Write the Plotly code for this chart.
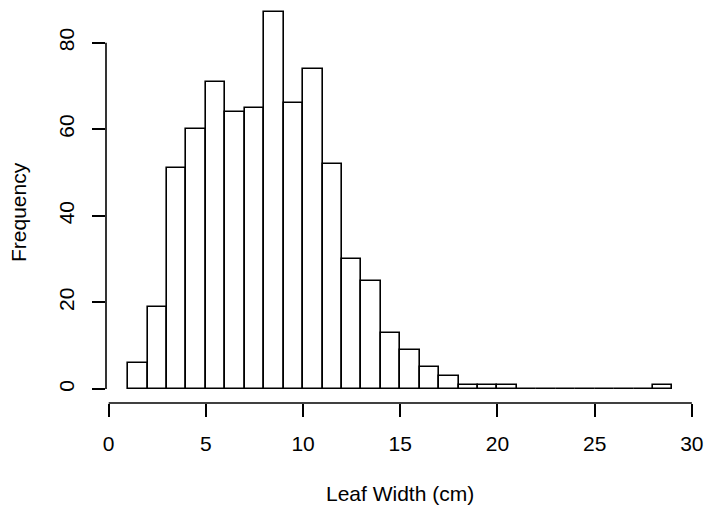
import plotly.graph_objects as go

# histogram bins (leaf width, cm) and counts
bin_edges = list(range(1, 30))
counts = [6, 19, 51, 60, 71, 64, 65, 87, 66, 74, 52, 30, 25, 13, 9, 5, 3,
          1, 1, 1, 0, 0, 0, 0, 0, 0, 0, 1]
x_ticks = [0, 5, 10, 15, 20, 25, 30]
y_ticks = [0, 20, 40, 60, 80]

FONT = "Liberation Sans, Arial, Helvetica, sans-serif"

W, H = 706, 510
L, R, T, B = 106, 6, 5, 107
PW, PH = W - L - R, H - T - B

lefts = bin_edges[:-1]
widths = [b - a for a, b in zip(bin_edges[:-1], bin_edges[1:])]

fig = go.Figure(go.Bar(
    x=lefts, y=counts, width=widths, offset=0,
    marker=dict(color="white", line=dict(color="black", width=1.6)),
    hoverinfo="skip",
))

# R-style axes: the line only runs from first to last tick
fig.add_shape(type="line", xref="x", yref="paper",
              x0=x_ticks[0], x1=x_ticks[-1], y0=0, y1=0,
              line=dict(color="black", width=1.6))
fig.add_shape(type="line", xref="paper", yref="y",
              x0=0, x1=0, y0=y_ticks[0], y1=y_ticks[-1],
              line=dict(color="black", width=1.6))

fig.add_annotation(text="Leaf Width (cm)", xref="paper", yref="paper",
                   x=(400 - L) / PW, y=-90 / PH, showarrow=False,
                   xanchor="center", yanchor="middle",
                   font=dict(size=21, color="black", family=FONT))
fig.add_annotation(text="Frequency", xref="paper", yref="paper",
                   x=(18 - L) / PW, y=(H - B - 212) / PH, textangle=-90,
                   showarrow=False, xanchor="center", yanchor="middle",
                   font=dict(size=21, color="black", family=FONT))

fig.update_layout(
    template="none",
    width=W, height=H,
    margin=dict(l=L, r=R, t=T, b=B, pad=0),
    paper_bgcolor="white", plot_bgcolor="white",
    showlegend=False, bargap=0,
    font=dict(family=FONT, size=21, color="black"),
)
fig.update_xaxes(
    range=[-0.139, 30.42], tickvals=x_ticks, ticks="outside", ticklen=13,
    tickwidth=1.6, tickcolor="black", showline=False, showgrid=False,
    zeroline=False, ticklabelstandoff=9, automargin=False,
    ticklabeloverflow="allow",
)
fig.update_yaxes(
    range=[-3.234, 88.7], tickvals=y_ticks, ticks="outside", ticklen=13,
    tickwidth=1.6, tickcolor="black", showline=False, showgrid=False,
    zeroline=False, tickangle=-90, ticklabelstandoff=10, automargin=False,
)

# drop the browser's default 8px body margin so the figure fills the window
fig.write_html("out.html", config={"displayModeBar": False},
               post_script="document.body.style.margin = '0';")
